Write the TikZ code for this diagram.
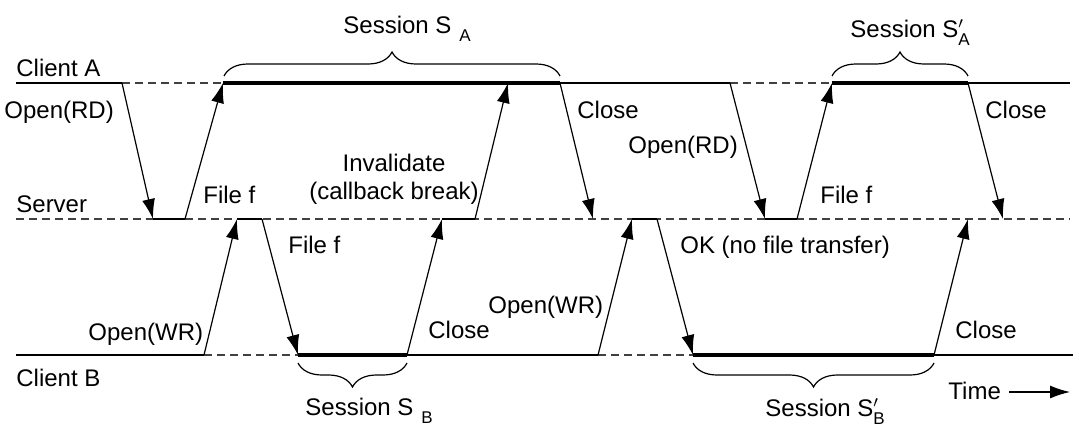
\documentclass[tikz,border=0pt]{standalone}
\usepackage{fontspec}
\setmainfont{Liberation Sans}
\usetikzlibrary{arrows.meta, decorations.pathreplacing}

\newcommand{\subfont}{\fontsize{8.5}{9}\selectfont}
\newcommand{\sessname}[2]{Session S#2\raisebox{-4pt}{\subfont #1}}

\begin{document}
\begin{tikzpicture}
        [x=0.5pt, y=-0.5pt,
        font=\fontsize{12}{14}\selectfont,
        lbl/.style={anchor=base west, inner sep=0pt},
        solidline/.style={line width=0.75pt},
        idleline/.style={line width=0.6pt, black!75, dash pattern=on 4pt off 2.5pt},
        session/.style={line width=2.1pt},
        busy/.style={line width=1.3pt},
        arr/.style={-{Latex[length=10pt,width=6.5pt]}, line width=0.6pt},
        sbrace/.style={decorate, decoration={brace, amplitude=12pt}, line width=0.6pt}]
        \useasboundingbox (0,0) rectangle (1079,428);

        % client A
        \coordinate (a0) at (16,83);
        \coordinate (a1) at (122,83);
        \coordinate (a2) at (223,83);
        \coordinate (a3) at (508,83);
        \coordinate (a4) at (560,83);
        \coordinate (a5) at (730,83);
        \coordinate (a6) at (832,83);
        \coordinate (a7) at (968,83);
        \coordinate (a8) at (1070,83);
        % server
        \coordinate (s0) at (16,219);
        \coordinate (s1) at (153,219);
        \coordinate (s2) at (185,219);
        \coordinate (s3) at (237,219);
        \coordinate (s4) at (262,219);
        \coordinate (s5) at (442,219);
        \coordinate (s6) at (475,219);
        \coordinate (s7) at (593,219);
        \coordinate (s8) at (632,219);
        \coordinate (s9) at (657,219);
        \coordinate (s10) at (765,219);
        \coordinate (s11) at (797,219);
        \coordinate (s12) at (968,219);
        \coordinate (s13) at (1003,219);
        \coordinate (s14) at (1070,219);
        % client B
        \coordinate (b0) at (16,355);
        \coordinate (b1) at (204,355);
        \coordinate (b2) at (298,355);
        \coordinate (b3) at (407,355);
        \coordinate (b4) at (598,355);
        \coordinate (b5) at (693,355);
        \coordinate (b6) at (934,355);
        \coordinate (b7) at (1073,355);

        % time lines
        \draw[solidline] (a0) -- (a1) (a4) -- (a5) (a7) -- (a8);
        \draw[idleline] (a1) -- (a2) (a5) -- (a6);
        \draw[session] (a2) -- (a4) (a6) -- (a7);
        \draw[idleline] (s0) -- (s14);
        \draw[busy] (s1) -- (s2) (s3) -- (s4) (s5) -- (s6) (s8) -- (s9) (s10) -- (s11);
        \draw[solidline] (b0) -- (b1) (b3) -- (b4) (b6) -- (b7);
        \draw[idleline] (b1) -- (b2) (b4) -- (b5);
        \draw[session] (b2) -- (b3) (b5) -- (b6);

        % messages
        \draw[arr] (a1) -- (s1);
        \draw[arr] (s2) -- (a2);
        \draw[arr] (b1) -- (s3);
        \draw[arr] (s4) -- (b2);
        \draw[arr] (b3) -- (s5);
        \draw[arr] (s6) -- (a3);
        \draw[arr] (a4) -- (s7);
        \draw[arr] (b4) -- (s8);
        \draw[arr] (s9) -- (b5);
        \draw[arr] (a5) -- (s10);
        \draw[arr] (s11) -- (a6);
        \draw[arr] (a7) -- (s13);
        \draw[arr] (b6) -- (s12);

        % sessions
        \draw[sbrace] (224,76) -- (560,76);
        \draw[sbrace] (832,76) -- (968,76);
        \draw[sbrace] (407,363) -- (298,363);
        \draw[sbrace] (934,363) -- (693,363);
        \node (sa) at (343,33) [lbl] {\sessname{A}{\hspace{4pt}}};
        \node (sa2) at (850,37) [lbl] {\sessname{A}{\rlap{$^{\prime}$}}};
        \node (sb) at (305,415) [lbl] {\sessname{B}{\hspace{4pt}}};
        \node (sb2) at (765,416) [lbl] {\sessname{B}{\rlap{$^{\prime}$}}};

        % labels
        \node (ca) at (16,76) [lbl] {Client A};
        \node (sv) at (16,212) [lbl] {Server};
        \node (cb) at (16,386) [lbl] {Client B};
        \node (o1) at (4,118) [lbl] {Open(RD)};
        \node (f1) at (203,203) [lbl] {File f};
        \node (iv) at (394,179) [align=center, inner sep=0pt] {Invalidate\\(callback break)};
        \node (c1) at (577,118) [lbl] {Close};
        \node (o2) at (628,153) [lbl] {Open(RD)};
        \node (f2) at (820,203) [lbl] {File f};
        \node (c2) at (985,118) [lbl] {Close};
        \node (f3) at (288,253) [lbl] {File f};
        \node (w1) at (88,340) [lbl] {Open(WR)};
        \node (c3) at (428,338) [lbl] {Close};
        \node (w2) at (488,313) [lbl] {Open(WR)};
        \node (ok) at (680,253) [lbl] {OK (no file transfer)};
        \node (c4) at (955,338) [lbl] {Close};
        \node (tm) at (948,399) [lbl] {Time};
        \coordinate (tend) at (1070,392);
        \draw[arr] (tm.east |- tend) ++(8,0) -- (tend);
\end{tikzpicture}
\end{document}
